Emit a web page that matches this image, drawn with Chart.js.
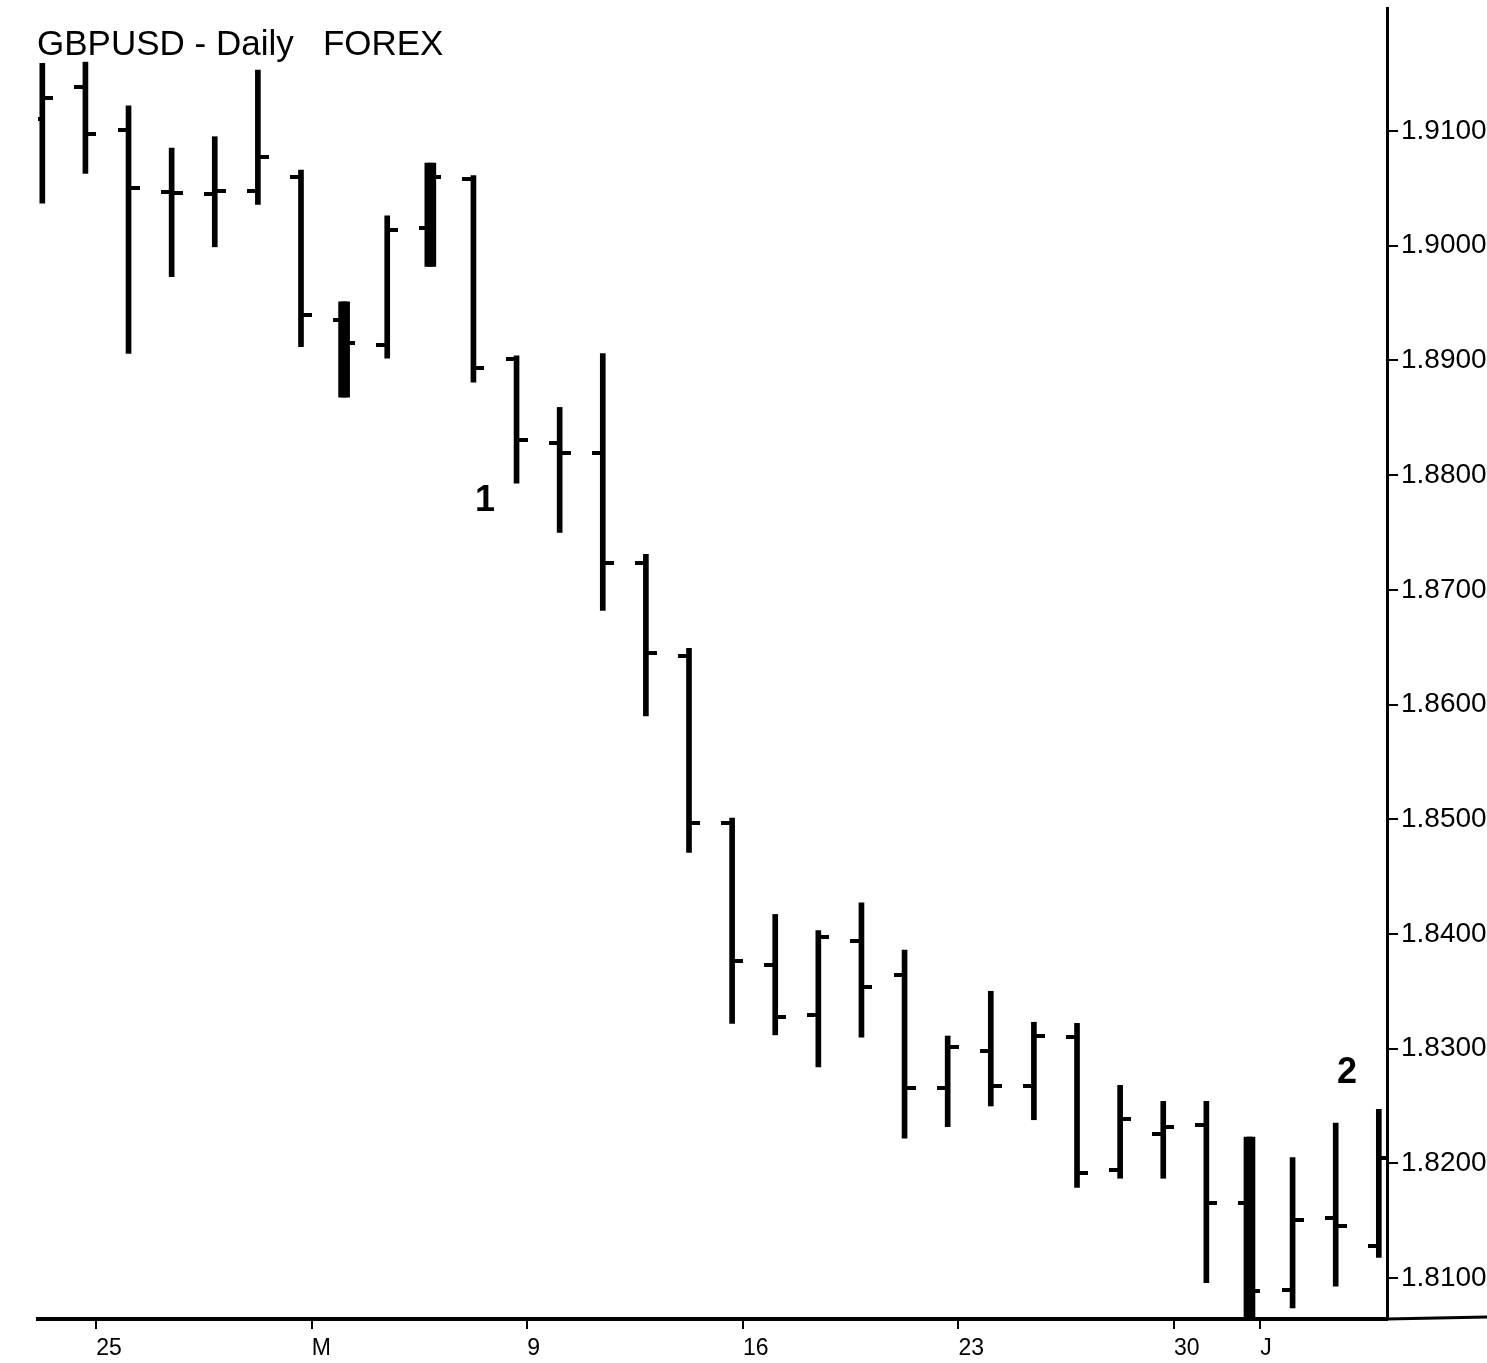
<!DOCTYPE html>
<html>
<head>
<meta charset="UTF-8">
<title>GBPUSD - Daily FOREX</title>
<script src="https://cdn.jsdelivr.net/npm/chart.js"></script>
<style>
  html,body{margin:0;padding:0;background:#fff;}
  #wrap{width:1487px;height:1363px;}
</style>
</head>
<body>
<div id="wrap"><canvas id="chart" width="1487" height="1363"></canvas></div>
<script>
/* ---- data: one daily bar per entry ---- */
const opens  = [1.9110,1.9138,1.9101,1.9047,1.9045,1.9048,1.9060,1.8935,1.8913,1.9015,1.9058,1.8901,1.8828,1.8819,1.8723,1.8642,
                1.8497,1.8373,1.8329,1.8394,1.8364,1.8266,1.8298,1.8267,1.8310,1.8194,1.8226,1.8233,1.8165,1.8090,1.8152,1.8128];
const highs  = [1.9159,1.9160,1.9122,1.9085,1.9095,1.9153,1.9066,1.8951,1.9026,1.9072,1.9061,1.8904,1.8859,1.8906,1.8731,1.8649,
                1.8501,1.8417,1.8403,1.8427,1.8386,1.8311,1.8350,1.8323,1.8322,1.8268,1.8254,1.8254,1.8223,1.8205,1.8235,1.8247];
const lows   = [1.9037,1.9063,1.8906,1.8973,1.8999,1.9036,1.8912,1.8868,1.8902,1.8982,1.8881,1.8793,1.8750,1.8682,1.8590,1.8471,
                1.8322,1.8312,1.8284,1.8310,1.8222,1.8232,1.8250,1.8238,1.8179,1.8187,1.8187,1.8096,1.8066,1.8074,1.8093,1.8118];
const closes = [1.9129,1.9097,1.9050,1.9046,1.9048,1.9077,1.8940,1.8915,1.9014,1.9060,1.8893,1.8831,1.8819,1.8723,1.8645,1.8497,
                1.8376,1.8328,1.8397,1.8354,1.8266,1.8301,1.8267,1.8311,1.8192,1.8239,1.8232,1.8165,1.8089,1.8151,1.8145,1.8205];

const dateTickBars = [1, 6, 11, 16, 21, 26, 28];
const dateTickText = ['25', 'M', '9', '16', '23', '30', 'J'];
const priceTicks   = [1.81, 1.82, 1.83, 1.84, 1.85, 1.86, 1.87, 1.88, 1.89, 1.90, 1.91];

const noteText  = ['1', '2'];
const noteBar   = [10.27, 30.26];
const notePrice = [1.8777, 1.8279];

/* ---- looks ---- */
const FONT = "'Liberation Sans', Arial, sans-serif";
const heavyBars = [7, 9, 28];      // scan shows these bars drawn thicker
const TICK_SHIFT = 0.25;

function tickImage(side){
  const c = document.createElement('canvas');
  c.width = 22; c.height = 4;
  const g = c.getContext('2d');
  g.fillStyle = '#000';
  g.fillRect(side < 0 ? 0 : 11, 0, 11, 4);
  return c;
}

const barData   = highs.map((h, i) => ({x: i, y: [lows[i], h]}));
const heavyData = barData.filter((d, i) => heavyBars.includes(i));

const decor = {
  id: 'decor',
  afterDraw(chart){
    const {ctx, chartArea, scales} = chart;
    ctx.save();
    // axis line runs on past the price scale
    ctx.strokeStyle = '#000';
    ctx.lineWidth = 3;
    ctx.beginPath();
    ctx.moveTo(chartArea.right, chartArea.bottom);
    ctx.lineTo(chart.width, chartArea.bottom - 2);
    ctx.stroke();
    // heading
    ctx.fillStyle = '#000';
    ctx.textBaseline = 'alphabetic';
    ctx.textAlign = 'left';
    ctx.font = '35px ' + FONT;
    ctx.fillText('GBPUSD - Daily   FOREX', 37, 55);
    // wave labels
    ctx.font = 'bold 36px ' + FONT;
    ctx.textAlign = 'center';
    ctx.textBaseline = 'middle';
    noteText.forEach((t, i) => {
      ctx.fillText(t, scales.x.getPixelForValue(noteBar[i]), scales.y.getPixelForValue(notePrice[i]));
    });
    ctx.restore();
  }
};

function noPad(s){ s.paddingTop = 0; s.paddingBottom = 0; s.paddingLeft = 0; s.paddingRight = 0; }

new Chart(document.getElementById('chart'), {
  type: 'bar',
  data: {
    datasets: [
      {data: barData, backgroundColor: '#000', barThickness: 5, grouped: false, order: 2},
      {data: heavyData, backgroundColor: '#000', barThickness: 11, grouped: false, order: 2},
      {type: 'line', data: opens.map((v, i) => ({x: i, y: v})), showLine: false,
       pointStyle: tickImage(-1), pointRadius: 5, pointHoverRadius: 5, order: 1},
      {type: 'line', data: closes.map((v, i) => ({x: i, y: v})), showLine: false,
       pointStyle: tickImage(1), pointRadius: 5, pointHoverRadius: 5, order: 1}
    ]
  },
  options: {
    responsive: false,
    animation: false,
    devicePixelRatio: 1,
    events: [],
    layout: {padding: {top: 8, left: 38, right: 0, bottom: 0}},
    plugins: {legend: {display: false}, tooltip: {enabled: false}},
    scales: {
      x: {
        type: 'linear',
        offset: false,
        min: -0.1, max: 31.19,
        afterBuildTicks: s => { s.ticks = dateTickBars.map(b => ({value: b + TICK_SHIFT})); },
        afterFit: s => { s.height = 44; noPad(s); },
        ticks: {
          autoSkip: false, maxRotation: 0, align: 'start', padding: 6,
          color: '#000', font: {family: FONT, size: 23},
          callback: v => dateTickText[dateTickBars.indexOf(Math.round(v - TICK_SHIFT))]
        },
        grid: {offset: false, drawOnChartArea: false, drawTicks: true, tickLength: 10, color: '#000', lineWidth: 2},
        border: {display: true, color: '#000', width: 4}
      },
      y: {
        position: 'right',
        min: 1.80643, max: 1.92072,
        afterBuildTicks: s => { s.ticks = priceTicks.map(v => ({value: v})); },
        afterFit: s => { s.width = 100; noPad(s); },
        ticks: {
          autoSkip: false, padding: 3, color: '#000',
          font: {family: FONT, size: 28},
          callback: v => v.toFixed(4)
        },
        grid: {drawOnChartArea: false, drawTicks: true, tickLength: 11, color: '#000', lineWidth: 2},
        border: {display: true, color: '#000', width: 3}
      }
    }
  },
  plugins: [decor]
});
</script>
</body>
</html>
